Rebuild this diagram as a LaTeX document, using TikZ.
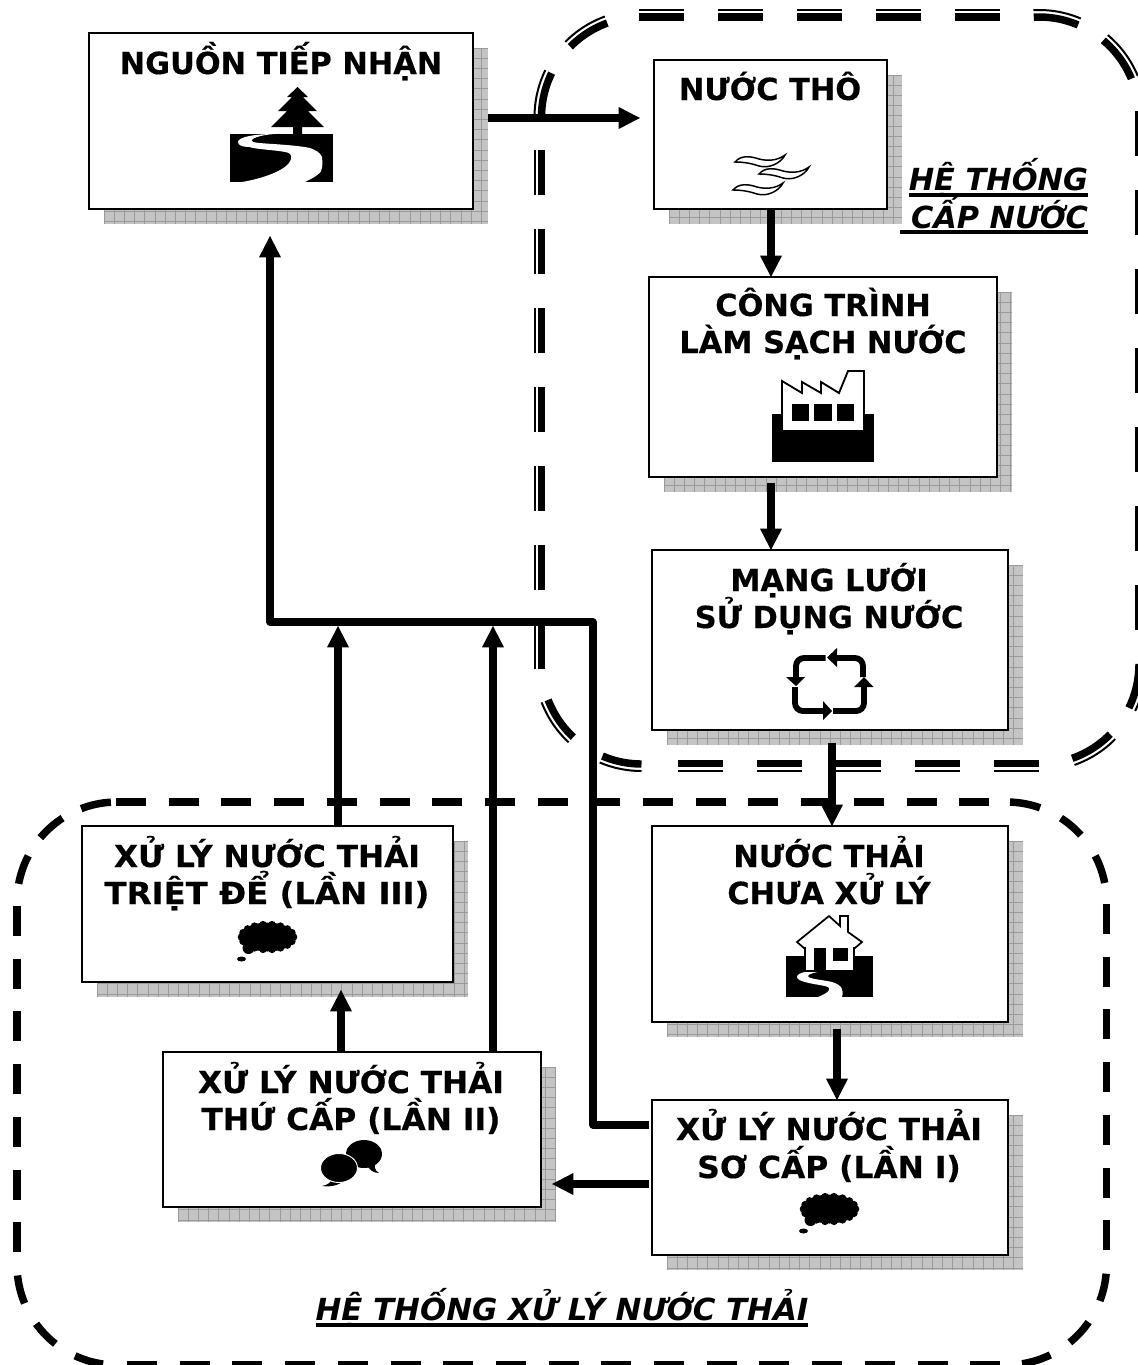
\documentclass[tikz,border=0pt]{standalone}
\usepackage{fontspec}
\setmainfont[BoldFeatures={FakeBold=0.4}]{DejaVu Sans}
\usetikzlibrary{arrows.meta,calc}
\definecolor{shadegray}{HTML}{C4C4C4}
\definecolor{gridgray}{HTML}{9A9A9A}
\tikzset{
  boxnode/.style={draw=black,fill=white,line width=1.7pt,inner sep=0pt,outer sep=0pt},
  boxlabel/.style={font=\fontsize{22.8pt}{26pt}\selectfont\bfseries,anchor=base,inner sep=0pt,outer sep=0pt},
  syslabel/.style={font=\fontsize{22.8pt}{26pt}\selectfont\bfseries\itshape,anchor=base,inner sep=0pt,outer sep=0pt},
  conn/.style={line width=5.4pt,line join=round,-{Triangle[length=16pt,width=16.5pt,line width=0pt,sharp]}},
  ulineS/.style={line width=3pt},
  thickdash/.style={line width=5.6pt},
  thindash/.style={line width=1.5pt},
  sdash/.style={line width=5.6pt},
  iconline/.style={line width=4.4pt,line cap=butt,rounded corners=6pt},
}
% one drop shade
\newcommand\dropshade[4]{%
  \begin{scope}
    \clip (#1+15,#2+15) rectangle (#3+15,#4+15);
    \fill[shadegray] (#1+15,#2+15) rectangle (#3+15,#4+15);
    \foreach \g in {0,...,40}{
      \draw[gridgray,line width=.5pt] ({#1+15+\g*10.2},#2) -- ({#1+15+\g*10.2},#4+15);
      \draw[gridgray,line width=.5pt] (#1,{#2+15+\g*10.2}) -- (#3+15,{#2+15+\g*10.2});
    }
  \end{scope}}
\newcommand\diagbox[5]{%
  \dropshade{#2}{#3}{#4}{#5}
  \node[boxnode,minimum width={(#4-#2)*0.75pt},minimum height={(#5-#3)*0.75pt}] (#1) at ({(#2+#4)/2},{(#3+#5)/2}) {};}
\newcommand\arcseg[6]{% style cx cy r a b
  \draw[#1] plot[domain=#5:#6,samples=16] ({#2+#4*cos(\x)},{#3+#4*sin(\x)});}
\newcommand\dblarc[4]{% cx cy a b
  \arcseg{thickdash}{#1}{#2}{100}{#3}{#4}
  \arcseg{thindash}{#1}{#2}{107}{#3}{#4}}
\newcommand\riverA{%
  (44,0) .. controls (25,0) and (8,3) .. (8,8) .. controls (8,11) and (12,13) .. (19,13)
  .. controls (30,16) and (50,16) .. (59,19) .. controls (62,21) and (62,25) .. (59,29)
  .. controls (52,38) and (30,45) .. (12,48) -- (75,48)
  .. controls (85,43) and (92,39) .. (92,34) .. controls (93,28) and (92,25) .. (92,23)
  .. controls (90,18) and (85,16) .. (80,14) .. controls (60,10) and (30,10) .. (23,8)
  .. controls (18,5) and (30,1) .. (44,0) -- cycle}
\newcommand\wisp[2]{%
  \draw[line width=1.1pt,fill=white,shift={(#1,#2)}] (0,0) .. controls (6,-7) and (15,-6) .. (24,-3)
   .. controls (32,-1) and (42,-1) .. (50,-7) .. controls (46,1) and (34,7) .. (24,4)
   .. controls (15,1) and (8,0) .. (0,0) -- cycle;}
\newcommand\cloudicon[2]{%
  \begin{scope}[shift={(#1,#2)}]
    \fill (0,0) ellipse [x radius=28,y radius=14.5];
    \foreach \t in {0,20,...,340}
      \fill ({26*cos(\t)},{12.5*sin(\t)}) circle [radius=3.8];
    \fill (-19,11) circle [radius=6];
    \fill (-26,22) ellipse [x radius=4.5,y radius=2.5];
  \end{scope}}
\begin{document}
\begin{tikzpicture}[x=0.75pt,y=-0.75pt]
\clip (0,0) rectangle (1138,1365);
% water-supply border
\foreach \x in {639,718,797,876,955}{
  \draw[thickdash] (\x,17) -- (\x+45,17);
  \draw[thindash] (\x,10) -- (\x+45,10);}
\foreach \y in {150,229,308,387,466,545,624}{
  \draw[thickdash] (541.5,\y) -- (541.5,\y+45);
  \draw[thindash] (534.5,\y) -- (534.5,\y+45);}
\foreach \x in {678,757,835.5,915,994}{
  \draw[thickdash] (\x,763.5) -- (\x+45,763.5);
  \draw[thindash] (\x,770.5) -- (\x+45,770.5);}
\foreach \y in {111,190,269,348,427,506,585}
  \draw[thickdash] (1139,\y) -- (1139,\y+45);
\dblarc{641.5}{117}{180}{206}
\dblarc{641.5}{117}{224.6}{250}
\dblarc{1039}{117}{267}{293}
\dblarc{1039}{117}{310}{337.5}
\dblarc{1039}{664}{0}{26}
\dblarc{1039}{664}{44.6}{70.6}
\dblarc{641.5}{664}{90}{113}
\dblarc{641.5}{664}{133}{159}
% wastewater border
\foreach \k in {0,...,16}{
  \draw[sdash] ({116+52.7*\k},802) -- ({146+52.7*\k},802);
  \draw[sdash] ({127+52.7*\k},1365) -- ({157+52.7*\k},1365);}
\foreach \k in {0,...,6}{
  \draw[sdash] (17,{906+52.7*\k}) -- (17,{936+52.7*\k});
  \draw[sdash] (1106.5,{904+52.7*\k}) -- (1106.5,{934+52.7*\k});}
\arcseg{sdash}{117}{902}{100}{190.5}{207.5}
\arcseg{sdash}{117}{902}{100}{220}{237}
\arcseg{sdash}{117}{902}{100}{249}{266.5}
\arcseg{sdash}{1006.5}{902}{100}{272}{289.6}
\arcseg{sdash}{1006.5}{902}{100}{303}{318}
\arcseg{sdash}{1006.5}{902}{100}{332.5}{349}
\arcseg{sdash}{1006.5}{1265}{100}{5}{21}
\arcseg{sdash}{1006.5}{1265}{100}{34.8}{50.7}
\arcseg{sdash}{1006.5}{1265}{100}{64}{81}
\arcseg{sdash}{117}{1265}{100}{98}{114.8}
\arcseg{sdash}{117}{1265}{100}{128}{144}
\arcseg{sdash}{117}{1265}{100}{157.5}{174}
% boxes
\diagbox{src}{89}{33}{473}{209}
\diagbox{raw}{654}{60}{887}{209}
\diagbox{plant}{649}{277}{997}{477}
\diagbox{net}{652}{550}{1008}{730}
\diagbox{waste}{652}{826}{1008}{1022}
\diagbox{prim}{652}{1100}{1008}{1255}
\diagbox{sec}{163}{1052}{541}{1207}
\diagbox{ter}{82}{826}{453}{982}
% box texts
\node[boxlabel] (t1) at (281,74) {NGUỒN TIẾP NHẬN};
\node[boxlabel] (t2) at (770,100) {NƯỚC THÔ};
\node[boxlabel] (t3) at (823,316) {CÔNG TRÌNH};
\node[boxlabel] (t4) at (823,353) {LÀM SẠCH NƯỚC};
\node[boxlabel] (t5) at (829,591) {MẠNG LƯỚI};
\node[boxlabel] (t6) at (829,628) {SỬ DỤNG NƯỚC};
\node[boxlabel] (t7) at (829,867) {NƯỚC THẢI};
\node[boxlabel] (t8) at (829,904) {CHƯA XỬ LÝ};
\node[boxlabel] (t9) at (829,1140) {\scalebox{1.027}[1]{XỬ LÝ NƯỚC THẢI}};
\node[boxlabel] (t10) at (829,1178) {\scalebox{1.03}[1]{SƠ CẤP (LẦN I)}};
\node[boxlabel] (t11) at (351,1093) {\scalebox{1.027}[1]{XỬ LÝ NƯỚC THẢI}};
\node[boxlabel] (t12) at (351,1130) {\scalebox{1.03}[1]{THỨ CẤP (LẦN II)}};
\node[boxlabel] (t13) at (267,867) {\scalebox{1.027}[1]{XỬ LÝ NƯỚC THẢI}};
\node[boxlabel] (t14) at (267,904) {\scalebox{1.065}[1]{TRIỆT ĐỂ (LẦN III)}};
% system labels
\node[syslabel,anchor=base east] (s1) at (1088,190) {HỆ THỐNG};
\node[syslabel,anchor=base east] (s2) at (1088,228) {CẤP NƯỚC};
\node[syslabel] (s3) at (562,1320) {\scalebox{1.015}[1]{HỆ THỐNG XỬ LÝ NƯỚC THẢI}};
\draw[ulineS] ($(s1.base west)+(0,5)$) -- ($(s1.base east)+(0,5)$);
\draw[ulineS] ($(s2.base west)+(-11,4)$) -- ($(s2.base east)+(0,4)$);
\draw[ulineS] ($(s3.base west)+(0,5)$) -- ($(s3.base east)+(0,5)$);
% icon: tree and river
\fill (297.5,87) -- (308,97) -- (303,97) -- (317,111) -- (308,111) -- (324,127) -- (302,127) -- (302,134)
  -- (293,134) -- (293,127) -- (271,127) -- (287,111) -- (278,111) -- (292,97) -- (287,97) -- cycle;
\fill (230,134) rectangle (332.5,182);
\fill[white,shift={(230,134)}] \riverA;
% icon: wisps
\wisp{735}{162}
\wisp{759}{174}
\wisp{733}{190}
% icon: factory
\fill (772,414) rectangle (874,462);
\draw[fill=white,line width=1.4pt,line join=miter] (782,381) -- (802,393) -- (802,382) -- (821,393) -- (821,382) -- (839,393)
  -- (848,371) -- (864,371) -- (864,431) -- (782,431) -- cycle;
\fill (792,404) rectangle (809,421);
\fill (814,404) rectangle (832,421);
\fill (837,404) rectangle (854,421);
% icon: cycle
\draw[iconline] (825.5,658) -- (796,658) -- (796,678);
\fill (786,677) -- (805,677) -- (796,686) -- cycle;
\draw[iconline] (863,677) -- (863,658) -- (836,658);
\fill (837,648) -- (837,667) -- (827,657.5) -- cycle;
\draw[iconline] (833,711) -- (864,711) -- (864,686);
\fill (854,687) -- (873.5,687) -- (864,677) -- cycle;
\draw[iconline] (795,687) -- (795,711) -- (824,711);
\fill (823,701) -- (823,720) -- (832,711) -- cycle;
% icon: house
\fill (786,956) rectangle (873,997);
\fill[white] (823,971) .. controls (812,970) and (797,972) .. (797,977) .. controls (797,982) and (815,984) .. (825,986)
  .. controls (834,988) and (828,993) .. (818,997) -- (842,997) .. controls (844,990) and (842,985) .. (832,982)
  .. controls (824,980) and (808,979) .. (808,976) .. controls (808,974) and (816,972) .. (823,971) -- cycle;
\draw[fill=white,line width=1.3pt,line join=miter] (829,916) -- (840,926) -- (840,916) -- (848,916) -- (848,932) -- (862,942)
  -- (855,948) -- (854,948) -- (854,971) -- (805,971) -- (805,948) -- (804,948) -- (797,942) -- cycle;
\fill (814,948) rectangle (826,971);
\fill (833,948) rectangle (848,961);
% icon: bubbles
\cloudicon{267.5}{937}
\cloudicon{829.5}{1209}
\fill (364,1154) ellipse [x radius=18,y radius=14];
\fill (366,1164) .. controls (370,1170) and (373,1173) .. (379,1173) .. controls (374,1170) and (374,1166) .. (376,1160) -- cycle;
\fill (333,1176) .. controls (332,1182) and (328,1185) .. (322,1186) .. controls (330,1187) and (338,1186) .. (345,1180) -- cycle;
\draw[white,fill=black,line width=.7pt] (339,1168) ellipse [x radius=18.5,y radius=14.5];
% connector ends
\coordinate (ab) at (488,118);
\coordinate (abe) at (640,118);
\coordinate (cd) at (771,483);
\coordinate (de) at (832,743);
\coordinate (ef) at (837,1029);
\coordinate (fg) at (649,1184);
\coordinate (fge) at (552,1184);
\coordinate (fa) at (649,1125);
\coordinate (fa1) at (593,1125);
\coordinate (fa2) at (593,622);
\coordinate (fa3) at (270,622);
\coordinate (fa4) at (270,236);
\coordinate (tu) at (338,826);
\coordinate (tue) at (338,626);
\coordinate (su) at (493,1052);
\coordinate (sue) at (493,626);
\coordinate (st) at (341,1052);
\coordinate (ste) at (341,990);
% connectors
\draw[conn] (ab) -- (abe);
\draw[conn] (771,209) -- (771,277);
\draw[conn] (cd) -- (cd |- net.north);
\draw[conn] (de) -- (de |- waste.north);
\draw[conn] (ef) -- (ef |- prim.north);
\draw[conn] (fg) -- (fge);
\draw[conn] (fa) -- (fa1) -- (fa2) -- (fa3) -- (fa4);
\draw[conn] (tu) -- (tue);
\draw[conn] (su) -- (sue);
\draw[conn] (st) -- (ste);
\end{tikzpicture}
\end{document}
